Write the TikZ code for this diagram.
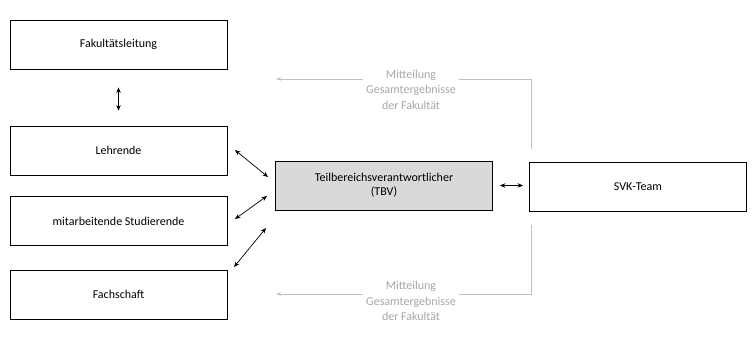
\documentclass[tikz,border=0pt]{standalone}
\usepackage{fontspec}
\setmainfont{Carlito}
\usetikzlibrary{arrows.meta}
\definecolor{boxfill}{HTML}{D9D9D9}
\definecolor{infogray}{HTML}{A6A6A6}
\definecolor{infoline}{HTML}{BFBFBF}
\begin{document}
\begin{tikzpicture}[x=1pt,y=-1pt,
  box/.style={draw=black,line width=0.8pt,minimum width=217pt,minimum height=49pt,inner sep=0pt,font=\fontsize{12}{14}\selectfont,align=center},
  link/.style={{Stealth[length=5.5pt,width=4.5pt]}-{Stealth[length=5.5pt,width=4.5pt]},line width=0.7pt},
  info/.style={draw=infoline,line width=0.7pt,-{Stealth[length=5pt,width=3.5pt]}},
  infotext/.style={text=infogray,font=\fontsize{12}{15.5}\selectfont,align=center}]
\path[use as bounding box] (0,0) rectangle (753,342);
\node[box] (fak) at (118.5,44.5) {Fakultätsleitung};
\node[box] (leh) at (118.5,150.5) {Lehrende};
\node[box] (stu) at (118.5,221) {mitarbeitende Studierende};
\node[box] (fs) at (118.5,294.5) {Fachschaft};
\node[box,fill=boxfill] (tbv) at (384,185.5) {Teilbereichsverantwortlicher\\(TBV)};
\node[box] (svk) at (638,186.5) {SVK-Team};
% black links
\draw[link,shorten <=18pt,shorten >=15pt] (fak.south) -- (leh.north);
\coordinate (l1) at (235,150); \coordinate (t1) at (268,177);
\coordinate (l2) at (235,219); \coordinate (t2) at (267,196);
\coordinate (l3) at (234,267); \coordinate (t3) at (266,228);
\draw[link] (l1) -- (t1);
\draw[link] (l2) -- (t2);
\draw[link] (l3) -- (t3);
\draw[link,shorten <=7pt,shorten >=6pt] (tbv.east) -- (svk.west|-tbv.east);
% info texts
\node[infotext] (m1) at (411,89.5) {Mitteilung\\Gesamtergebnisse\\der Fakultät};
\node[infotext] (m2) at (411,301) {Mitteilung\\Gesamtergebnisse\\der Fakultät};
\coordinate (a1) at (531,149); \coordinate (c1) at (531,79); \coordinate (e1) at (276,79);
\coordinate (a2) at (531,225); \coordinate (c2) at (531,294); \coordinate (e2) at (276,294);
\draw[draw=infoline,line width=0.7pt] (a1) -- (c1) -- (m1.east|-c1);
\draw[info] (m1.west|-c1) -- (e1);
\draw[draw=infoline,line width=0.7pt] (a2) -- (c2) -- (m2.east|-c2);
\draw[info] (m2.west|-c2) -- (e2);
\end{tikzpicture}
\end{document}
